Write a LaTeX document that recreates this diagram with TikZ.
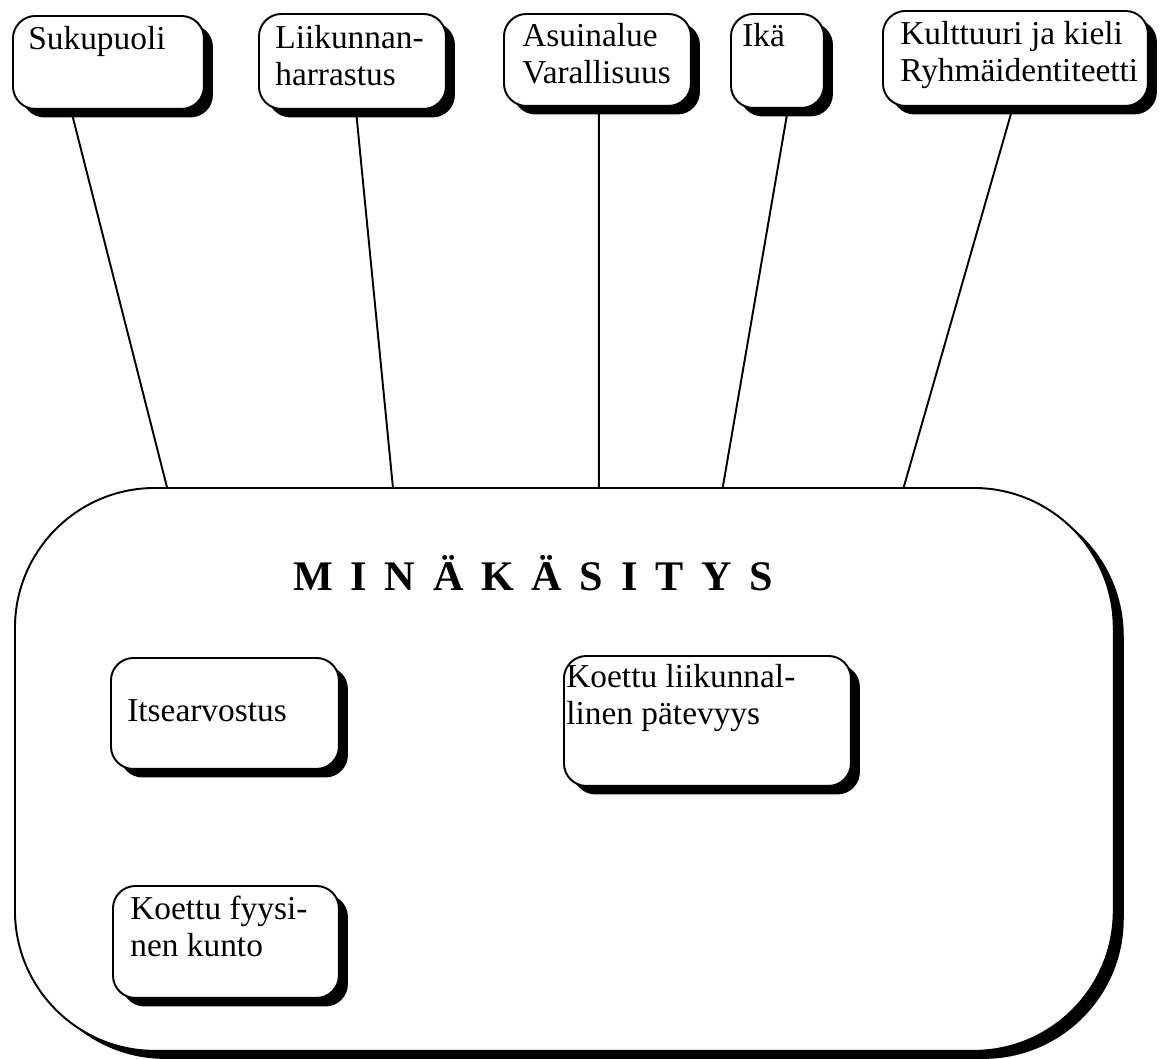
\documentclass[tikz,border=0pt]{standalone}
\usepackage{fontspec}
\setmainfont{Liberation Serif}
\usetikzlibrary{shadows}

\tikzset{
  kuva/.style={draw, line width=1.1pt, fill=white, rounded corners=0.45cm, inner sep=0pt, anchor=north west,
    drop shadow={shadow xshift=0.18cm, shadow yshift=-0.17cm, opacity=1, fill=black}},
  isokuva/.style={draw, line width=1.1pt, fill=white, rounded corners=2.8cm, inner sep=0pt, anchor=north west,
    drop shadow={shadow xshift=0.2cm, shadow yshift=-0.16cm, opacity=1, fill=black}},
  teksti/.style={anchor=north west, inner sep=0pt, align=left, font=\fontsize{19}{21}\selectfont},
  yhteys/.style={line width=1.1pt},
}

\begin{document}
\begin{tikzpicture}[x=0.02cm, y=-0.02cm]
	\useasboundingbox (0,0) rectangle (1164,1059);
	% taustatekijat
	\node[kuva, minimum width=3.82cm, minimum height=1.86cm] (suku) at (12,15) {};
	\node[kuva, minimum width=3.74cm, minimum height=1.90cm] (liik) at (258,13) {};
	\node[kuva, minimum width=3.74cm, minimum height=1.84cm] (asui) at (503,13) {};
	\node[kuva, minimum width=1.86cm, minimum height=1.88cm] (ika) at (730,13) {};
	\node[kuva, minimum width=5.30cm, minimum height=1.90cm] (kult) at (882,10) {};
	\node[teksti] (sukut) at (28,26) {Sukupuoli};
	\node[teksti] (liikt) at (275,25) {Liikunnan-\\harrastus};
	\node[teksti] (asuit) at (522,23) {Asuinalue\\Varallisuus};
	\node[teksti] (ikat) at (742,23) {Ikä};
	\node[teksti] (kultt) at (900,21) {Kulttuuri ja kieli\\Ryhmäidentiteetti};
	
	% minakasitys
	\node[isokuva, minimum width=21.98cm, minimum height=11.26cm] (mina) at (14,487) {};
	\node[anchor=base west, inner sep=0pt, font=\fontsize{24}{28}\selectfont\bfseries] (otsikko) at (293,590)
		{M\hspace{0.42em}I\hspace{0.42em}N\hspace{0.42em}Ä\hspace{0.42em}K\hspace{0.42em}Ä\hspace{0.42em}S\hspace{0.42em}I\hspace{0.42em}T\hspace{0.42em}Y\hspace{0.42em}S};
	\node[kuva, minimum width=4.56cm, minimum height=2.22cm] (itse) at (110,657) {};
	\node[kuva, minimum width=5.74cm, minimum height=2.60cm] (pate) at (563,655) {};
	\node[kuva, minimum width=4.52cm, minimum height=2.24cm] (kunto) at (112,885) {};
	\node[teksti] (itset) at (127,699) {Itsearvostus};
	\node[teksti] (patet) at (566,664) {Koettu liikunnal-\\linen pätevyys};
	\node[teksti] (kuntot) at (130,896) {Koettu fyysi-\\nen kunto};
	
	\draw [yhteys] ([xshift=-0.75cm]suku.south) -- ([xshift=-7.95cm]mina.north);
	\draw [yhteys] ([xshift=0.07cm]liik.south) -- ([xshift=-3.43cm]mina.north);
	\draw [yhteys] ([xshift=0.03cm]asui.south) -- ([xshift=0.69cm]mina.north);
	\draw [yhteys] ([xshift=0.21cm]ika.south) -- ([xshift=3.17cm]mina.north);
	\draw [yhteys] ([xshift=-0.05cm]kult.south) -- ([xshift=6.79cm]mina.north);
\end{tikzpicture}
\end{document}
